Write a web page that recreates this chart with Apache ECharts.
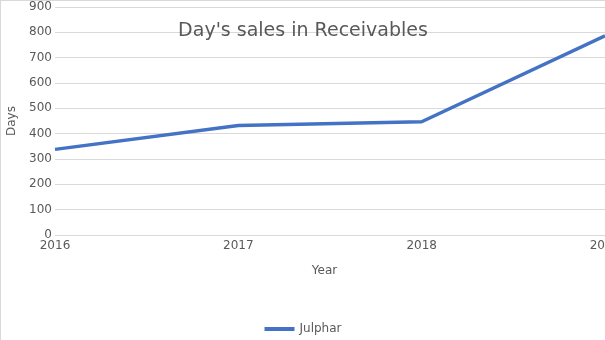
<!DOCTYPE html>
<html>
<head>
<meta charset="utf-8">
<script src="https://cdn.jsdelivr.net/npm/echarts@6/dist/echarts.min.js"></script>
<style>
  html, body { margin: 0; padding: 0; background: #fff; }
  #chart { width: 605px; height: 340px; box-sizing: border-box; border-left: 1px solid #d9d9d9; border-top: 1px solid #d9d9d9; }
</style>
</head>
<body>
<div id="chart"></div>
<script>
// Days' sales in receivables per year
const years = ['2016', '2017', '2018', '2019'];
const julphar = [338, 432, 447, 786];
const yMin = 0, yMax = 900, yStep = 100;

const chart = echarts.init(document.getElementById('chart'), null, { renderer: 'canvas' });
const textColor = '#595959';
const font = 'DejaVu Sans';

chart.setOption({
  animation: false,
  title: {
    text: "Day's sales in Receivables",
    left: 297, top: 16, textAlign: 'center',
    textStyle: { fontFamily: font, fontSize: 19, fontWeight: 'normal', color: textColor }
  },
  legend: {
    data: ['Julphar'],
    bottom: 0, left: 'center',
    itemWidth: 30, itemHeight: 4, icon: 'rect',
    textStyle: { fontFamily: font, fontSize: 12, color: textColor }
  },
  grid: { left: 54, right: 0, top: 6, bottom: 105, containLabel: false, outerBoundsMode: 'none' },
  xAxis: {
    type: 'category', data: years, boundaryGap: false,
    name: 'Year', nameLocation: 'middle', nameGap: 30,
    nameTextStyle: { fontFamily: font, fontSize: 12, color: textColor, padding: [0, 11, 0, 0] },
    axisLine: { show: false }, axisTick: { show: false },
    axisLabel: { fontFamily: font, fontSize: 12, color: textColor, margin: 5, hideOverlap: false, showMaxLabel: true }
  },
  yAxis: {
    type: 'value', min: yMin, max: yMax, interval: yStep,
    name: 'Days', nameLocation: 'middle', nameGap: 36,
    nameTextStyle: { fontFamily: font, fontSize: 12, color: textColor },
    axisLine: { show: false }, axisTick: { show: false },
    axisLabel: { fontFamily: font, fontSize: 12, color: textColor, margin: 3 },
    splitLine: { lineStyle: { color: '#d9d9d9', width: 1 } }
  },
  series: [{
    name: 'Julphar', type: 'line', data: julphar,
    symbol: 'none',
    lineStyle: { color: '#4472C4', width: 3.5 },
    itemStyle: { color: '#4472C4' }
  }]
});
</script>
</body>
</html>
